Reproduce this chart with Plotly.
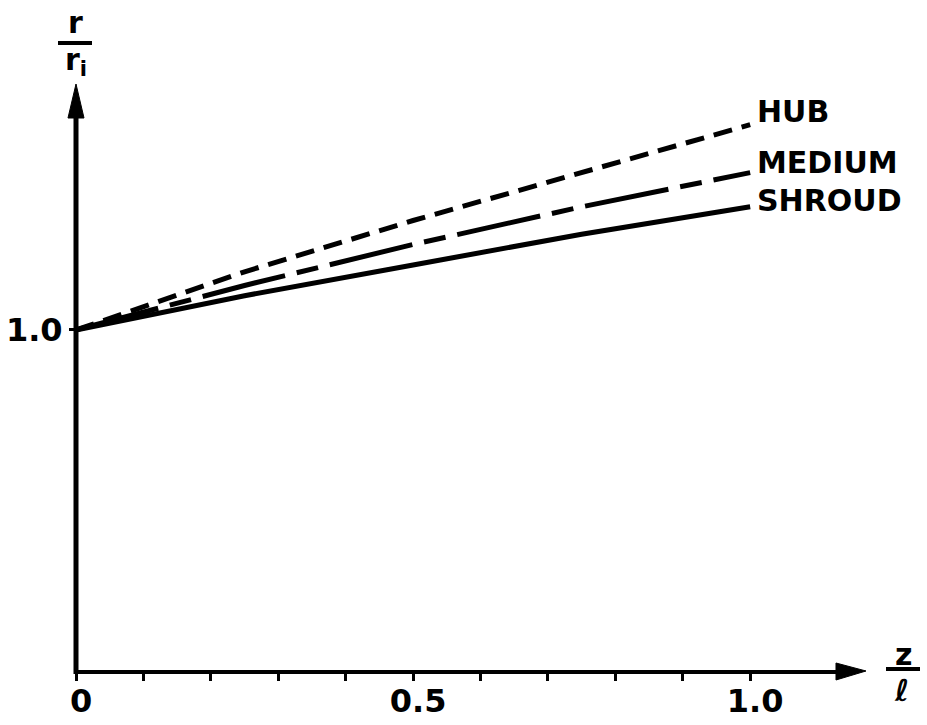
import plotly.graph_objects as go

# Axial position along the blade, z / l
z_over_l = [0.0, 0.25, 0.5, 0.75, 1.0]

# Radius ratio r / r_i for each streamline
hub = [1.0, 1.17, 1.32, 1.46, 1.60]
medium = [1.0, 1.13, 1.25, 1.36, 1.46]
shroud = [1.0, 1.10, 1.19, 1.28, 1.36]

series_names = ["HUB", "MEDIUM", "SHROUD"]
series_values = [hub, medium, shroud]

x_tick_vals = [0.0, 0.5, 1.0]
x_tick_text = ["0", "0.5", "1.0"]
x_minor_vals = [0.1, 0.2, 0.3, 0.4, 0.6, 0.7, 0.8, 0.9]
y_tick_vals = [1.0]
y_tick_text = ["1.0"]

W, H = 927, 725
ML, MR, MT, MB = 76, 42, 18, 53
FONT = "DejaVu Sans"
INK = "black"


def paper_x(px):
    return (px - ML) / (W - ML - MR)


def paper_y(py):
    return (H - MB - py) / (H - MT - MB)


dashes = {"HUB": "19px,10px", "MEDIUM": "85px,12px,22px,12px", "SHROUD": "solid"}
label_shift = {"HUB": 13, "MEDIUM": 10, "SHROUD": 6}

fig = go.Figure()
for name, vals in zip(series_names, series_values):
    fig.add_trace(go.Scatter(
        x=z_over_l, y=vals, mode="lines", name=name,
        line=dict(color=INK, width=5, dash=dashes[name]),
        showlegend=False, hoverinfo="skip",
    ))

annotations = []
# Curve labels at the right-hand end of each line
for name, vals in zip(series_names, series_values):
    annotations.append(dict(
        x=z_over_l[-1], y=vals[-1], xref="x", yref="y",
        text=name, showarrow=False, xanchor="left", yanchor="middle",
        xshift=5, yshift=label_shift[name],
        font=dict(family=FONT, size=30, color=INK, weight="bold"),
    ))

# Axis titles written as fractions: r / r_i and z / l
axis_font = dict(family=FONT, size=30, color=INK, weight="bold")
annotations += [
    dict(x=paper_x(75), y=paper_y(22), xref="paper", yref="paper", text="r",
         showarrow=False, xanchor="center", yanchor="middle", font=axis_font),
    dict(x=paper_x(76), y=paper_y(62), xref="paper", yref="paper", text="r<sub>i</sub>",
         showarrow=False, xanchor="center", yanchor="middle", font=axis_font),
    dict(x=paper_x(903), y=paper_y(654), xref="paper", yref="paper", text="z",
         showarrow=False, xanchor="center", yanchor="middle", font=axis_font),
    dict(x=paper_x(902), y=paper_y(690), xref="paper", yref="paper", text="ℓ",
         showarrow=False, xanchor="center", yanchor="middle", font=axis_font),
]


def tri_path(points):
    pts = [f"{paper_x(px):.5f},{paper_y(py):.5f}" for px, py in points]
    return "M " + " L ".join(pts) + " Z"


shapes = [
    # horizontal axis with arrowhead
    dict(type="line", xref="paper", yref="paper",
         x0=paper_x(76), x1=paper_x(845), y0=paper_y(672), y1=paper_y(672),
         line=dict(color=INK, width=4)),
    dict(type="path", xref="paper", yref="paper",
         path=tri_path([(836, 663), (866, 671), (836, 680)]),
         fillcolor=INK, line=dict(color=INK, width=1)),
    # vertical axis with arrowhead
    dict(type="line", xref="paper", yref="paper",
         x0=paper_x(76), x1=paper_x(76), y0=paper_y(674), y1=paper_y(110),
         line=dict(color=INK, width=5)),
    dict(type="path", xref="paper", yref="paper",
         path=tri_path([(68, 118), (76, 84), (84, 118)]),
         fillcolor=INK, line=dict(color=INK, width=1)),
    # fraction bars
    dict(type="line", xref="paper", yref="paper",
         x0=paper_x(58), x1=paper_x(92), y0=paper_y(43), y1=paper_y(43),
         line=dict(color=INK, width=4)),
    dict(type="line", xref="paper", yref="paper",
         x0=paper_x(886), x1=paper_x(920), y0=paper_y(669), y1=paper_y(669),
         line=dict(color=INK, width=4)),
]

fig.update_layout(
    width=W, height=H,
    margin=dict(l=ML, r=MR, t=MT, b=MB, autoexpand=False),
    paper_bgcolor="white", plot_bgcolor="white",
    annotations=annotations, shapes=shapes,
    xaxis=dict(
        range=[0, 1.2], showgrid=False, zeroline=False, showline=False,
        automargin=False,
        tickvals=x_tick_vals, ticktext=x_tick_text,
        ticks="outside", ticklen=8, tickwidth=2.5, tickcolor=INK,
        minor=dict(ticks="outside", ticklen=8, tickwidth=2.5, tickcolor=INK,
                   tickmode="array", tickvals=x_minor_vals, showgrid=False),
        ticklabelstandoff=-7, ticklabelshift=5,
        tickfont=dict(family=FONT, size=32, color=INK, weight="bold"),
    ),
    yaxis=dict(
        range=[0, 1.912], showgrid=False, zeroline=False, showline=False,
        automargin=False,
        tickvals=y_tick_vals, ticktext=y_tick_text,
        ticks="outside", ticklen=6, tickwidth=3, tickcolor=INK,
        tickfont=dict(family=FONT, size=32, color=INK, weight="bold"),
    ),
)

fig.write_html("out.html")
